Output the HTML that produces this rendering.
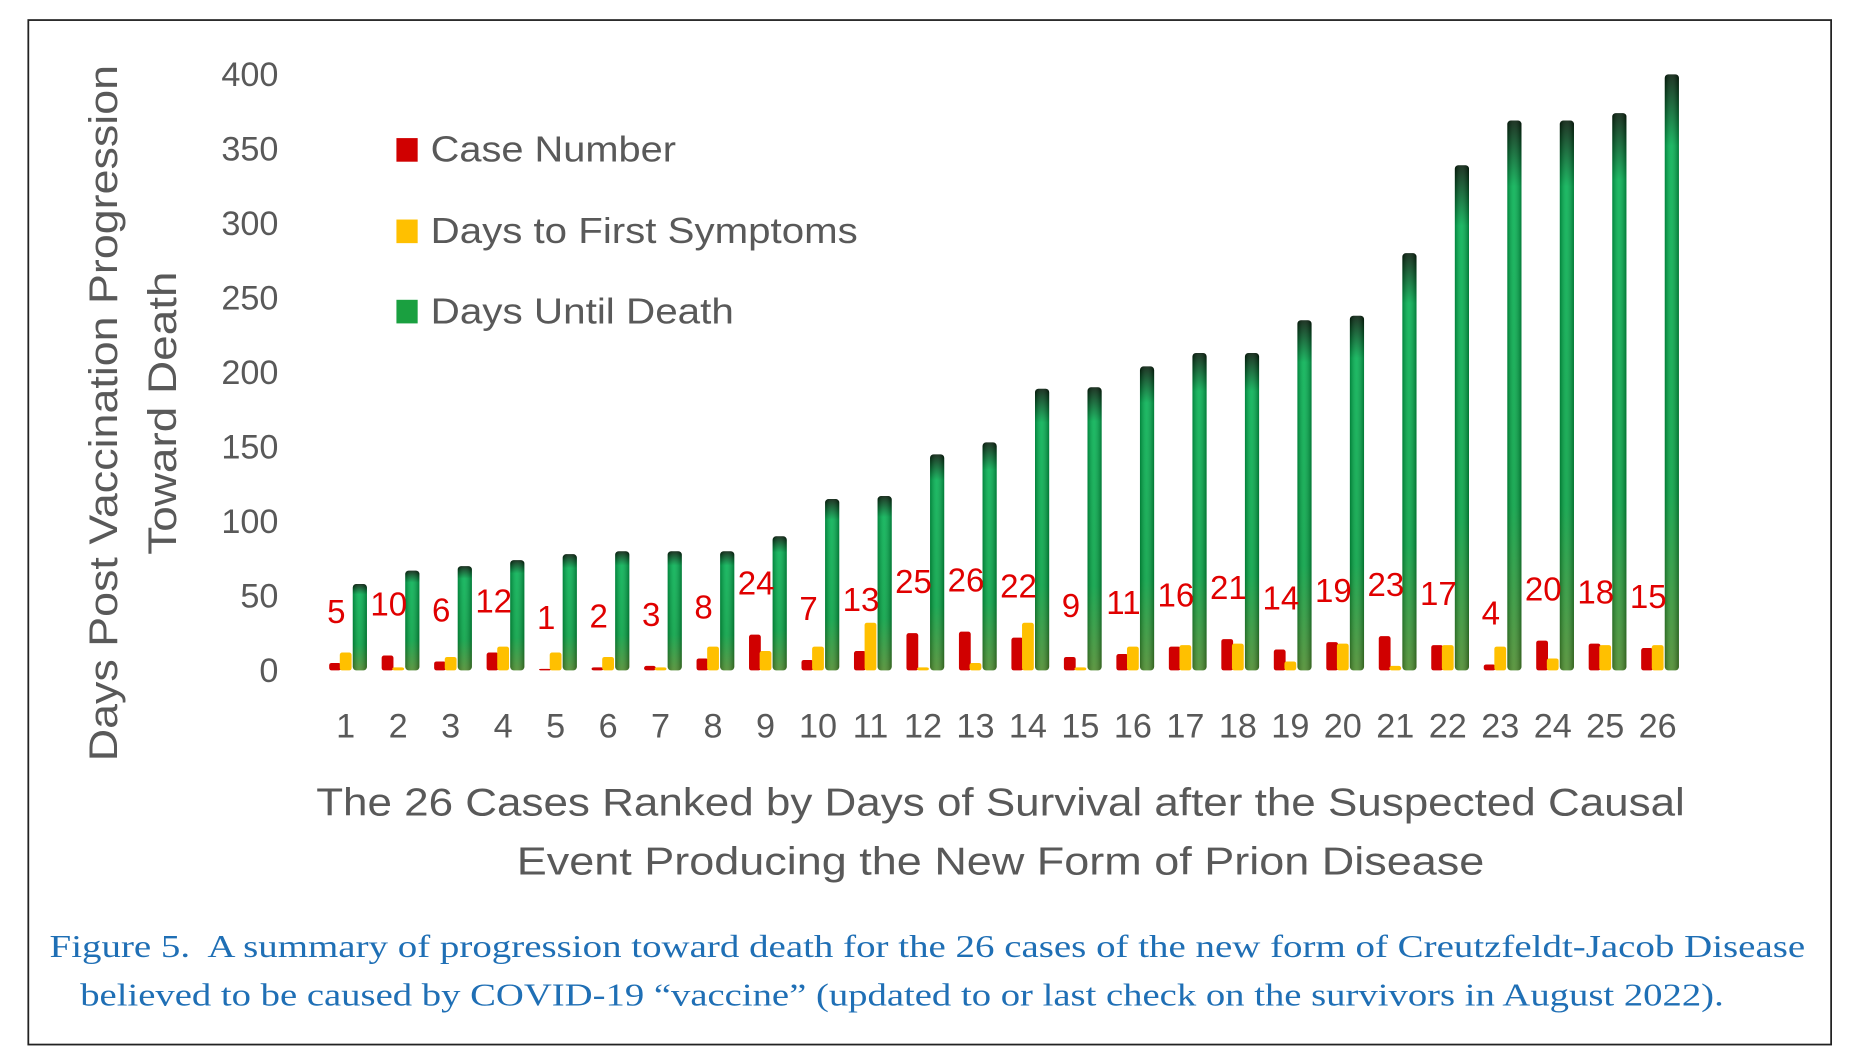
<!DOCTYPE html>
<html><head><meta charset="utf-8"><style>
html,body{margin:0;padding:0;background:#fff;}
svg{display:block;}
</style></head><body>
<svg id="chart" width="1850" height="1054" viewBox="0 0 1568 893" preserveAspectRatio="none" xmlns="http://www.w3.org/2000/svg">
<defs>
<linearGradient id="gGreen" x1="0" y1="0" x2="0" y2="1">
<stop offset="0" stop-color="#021a08"/>
<stop offset="0.12" stop-color="#00b050"/>
<stop offset="0.7" stop-color="#00a040"/>
<stop offset="1" stop-color="#4a8a2a"/>
</linearGradient>
<linearGradient id="gGreenH" x1="0" y1="0" x2="1" y2="0">
<stop offset="0" stop-color="#000" stop-opacity="0.25"/>
<stop offset="0.45" stop-color="#fff" stop-opacity="0.12"/>
<stop offset="1" stop-color="#000" stop-opacity="0.3"/>
</linearGradient>
</defs>
<rect x="24" y="17" width="1528" height="868" fill="#fff" stroke="#222" stroke-width="1.5"/>
<g id="yTitle" fill="#595959" font-family="'Liberation Sans', sans-serif" font-size="34" text-anchor="middle">
<text transform="translate(99,350) rotate(-90)" textLength="590" lengthAdjust="spacingAndGlyphs">Days Post Vaccination Progression</text>
<text transform="translate(149,350) rotate(-90)" textLength="240" lengthAdjust="spacingAndGlyphs">Toward Death</text>
</g>
<g id="yTicks"></g>
<g id="bars"></g>
<g id="xTicks"></g>
<g font-family="'Liberation Sans', sans-serif" font-size="31" fill="#595959">
<g><rect x="336" y="117" width="18" height="20" fill="#d00000"/><text x="365" y="137" textLength="208" lengthAdjust="spacingAndGlyphs">Case Number</text></g>
<g><rect x="336" y="186" width="18" height="20" fill="#ffc000"/><text x="365" y="206" textLength="362" lengthAdjust="spacingAndGlyphs">Days to First Symptoms</text></g>
<g><rect x="336" y="254" width="18" height="20" fill="#1aa040"/><text x="365" y="274" textLength="257" lengthAdjust="spacingAndGlyphs">Days Until Death</text></g>
</g>
<g fill="#595959" font-family="'Liberation Sans', sans-serif" font-size="33" text-anchor="middle">
<text x="848" y="691" textLength="1160" lengthAdjust="spacingAndGlyphs">The 26 Cases Ranked by Days of Survival after the Suspected Causal</text>
<text x="848" y="741" textLength="820" lengthAdjust="spacingAndGlyphs">Event Producing the New Form of Prion Disease</text>
</g>
<g fill="#1f6fb5" font-family="'Liberation Serif', serif" font-size="27">
<text x="42" y="811" textLength="1488" lengthAdjust="spacingAndGlyphs">Figure 5.&#160; A summary of progression toward death for the 26 cases of the new form of Creutzfeldt-Jacob Disease</text>
<text x="68" y="852" textLength="1393" lengthAdjust="spacingAndGlyphs">believed to be caused by COVID-19 “vaccine” (updated to or last check on the survivors in August 2022).</text>
</g>
</svg>
<script>
const ranks = [1,2,3,4,5,6,7,8,9,10,11,12,13,14,15,16,17,18,19,20,21,22,23,24,25,26];
const caseNumbers = [5,10,6,12,1,2,3,8,24,7,13,25,26,22,9,11,16,21,14,19,23,17,4,20,18,15];
const daysToSymptoms = [12,2,9,16,12,9,2,16,13,16,32,2,5,32,2,16,17,18,6,18,3,17,16,8,17,17];
const daysToDeath = [58,67,70,74,78,80,80,80,90,115,117,145,153,189,190,204,213,213,235,238,280,339,369,369,374,400];
const yTickValues = [0,50,100,150,200,250,300,350,400];

const NS = 'http://www.w3.org/2000/svg';
const y0 = 568, y400 = 63;
function yScale(v){ return y0 - (v/400)*(y0-y400); }
function xScale(i){ return 293 + i*((1405-293)/25); }
function mk(tag, attrs, parent){
  const e = document.createElementNS(NS, tag);
  for (const k in attrs) e.setAttribute(k, attrs[k]);
  parent.appendChild(e);
  return e;
}
const yT = document.getElementById('yTicks');
yTickValues.forEach(v => {
  const t = mk('text', {x:236, y:yScale(v)+10, 'text-anchor':'end', fill:'#595959', 'font-family':"'Liberation Sans', sans-serif", 'font-size':29}, yT);
  
  
  t.textContent = v;
});
const bars = document.getElementById('bars');
const xT = document.getElementById('xTicks');
ranks.forEach((r, i) => {
  const cx = xScale(i);
  const red = mk('rect', {x:cx-14, y:yScale(caseNumbers[i]), width:10, height:y0-yScale(caseNumbers[i]), fill:'#d00000', rx:2}, bars);
  
  
  const yel = mk('rect', {x:cx-5, y:yScale(daysToSymptoms[i]), width:10, height:y0-yScale(daysToSymptoms[i]), fill:'#ffc000', rx:2}, bars);
  
  
  const gy = yScale(daysToDeath[i]);
  const g = mk('rect', {x:cx+6, y:gy, width:12, height:y0-gy, fill:'url(#gGreen)', rx:3}, bars);
  
  
  const gh = mk('rect', {x:cx+6, y:gy, width:12, height:y0-gy, fill:'url(#gGreenH)', rx:3}, bars);
  
  
  const lbl = mk('text', {x:cx-8, y:yScale(caseNumbers[i])-34, 'text-anchor':'middle', fill:'#e00000', 'font-family':"'Liberation Sans', sans-serif", 'font-size':28}, bars);
  
  
  lbl.textContent = caseNumbers[i];
  const xt = mk('text', {x:cx, y:625, 'text-anchor':'middle', fill:'#595959', 'font-family':"'Liberation Sans', sans-serif", 'font-size':29}, xT);
  
  
  xt.textContent = r;
});
</script>
</body></html>
